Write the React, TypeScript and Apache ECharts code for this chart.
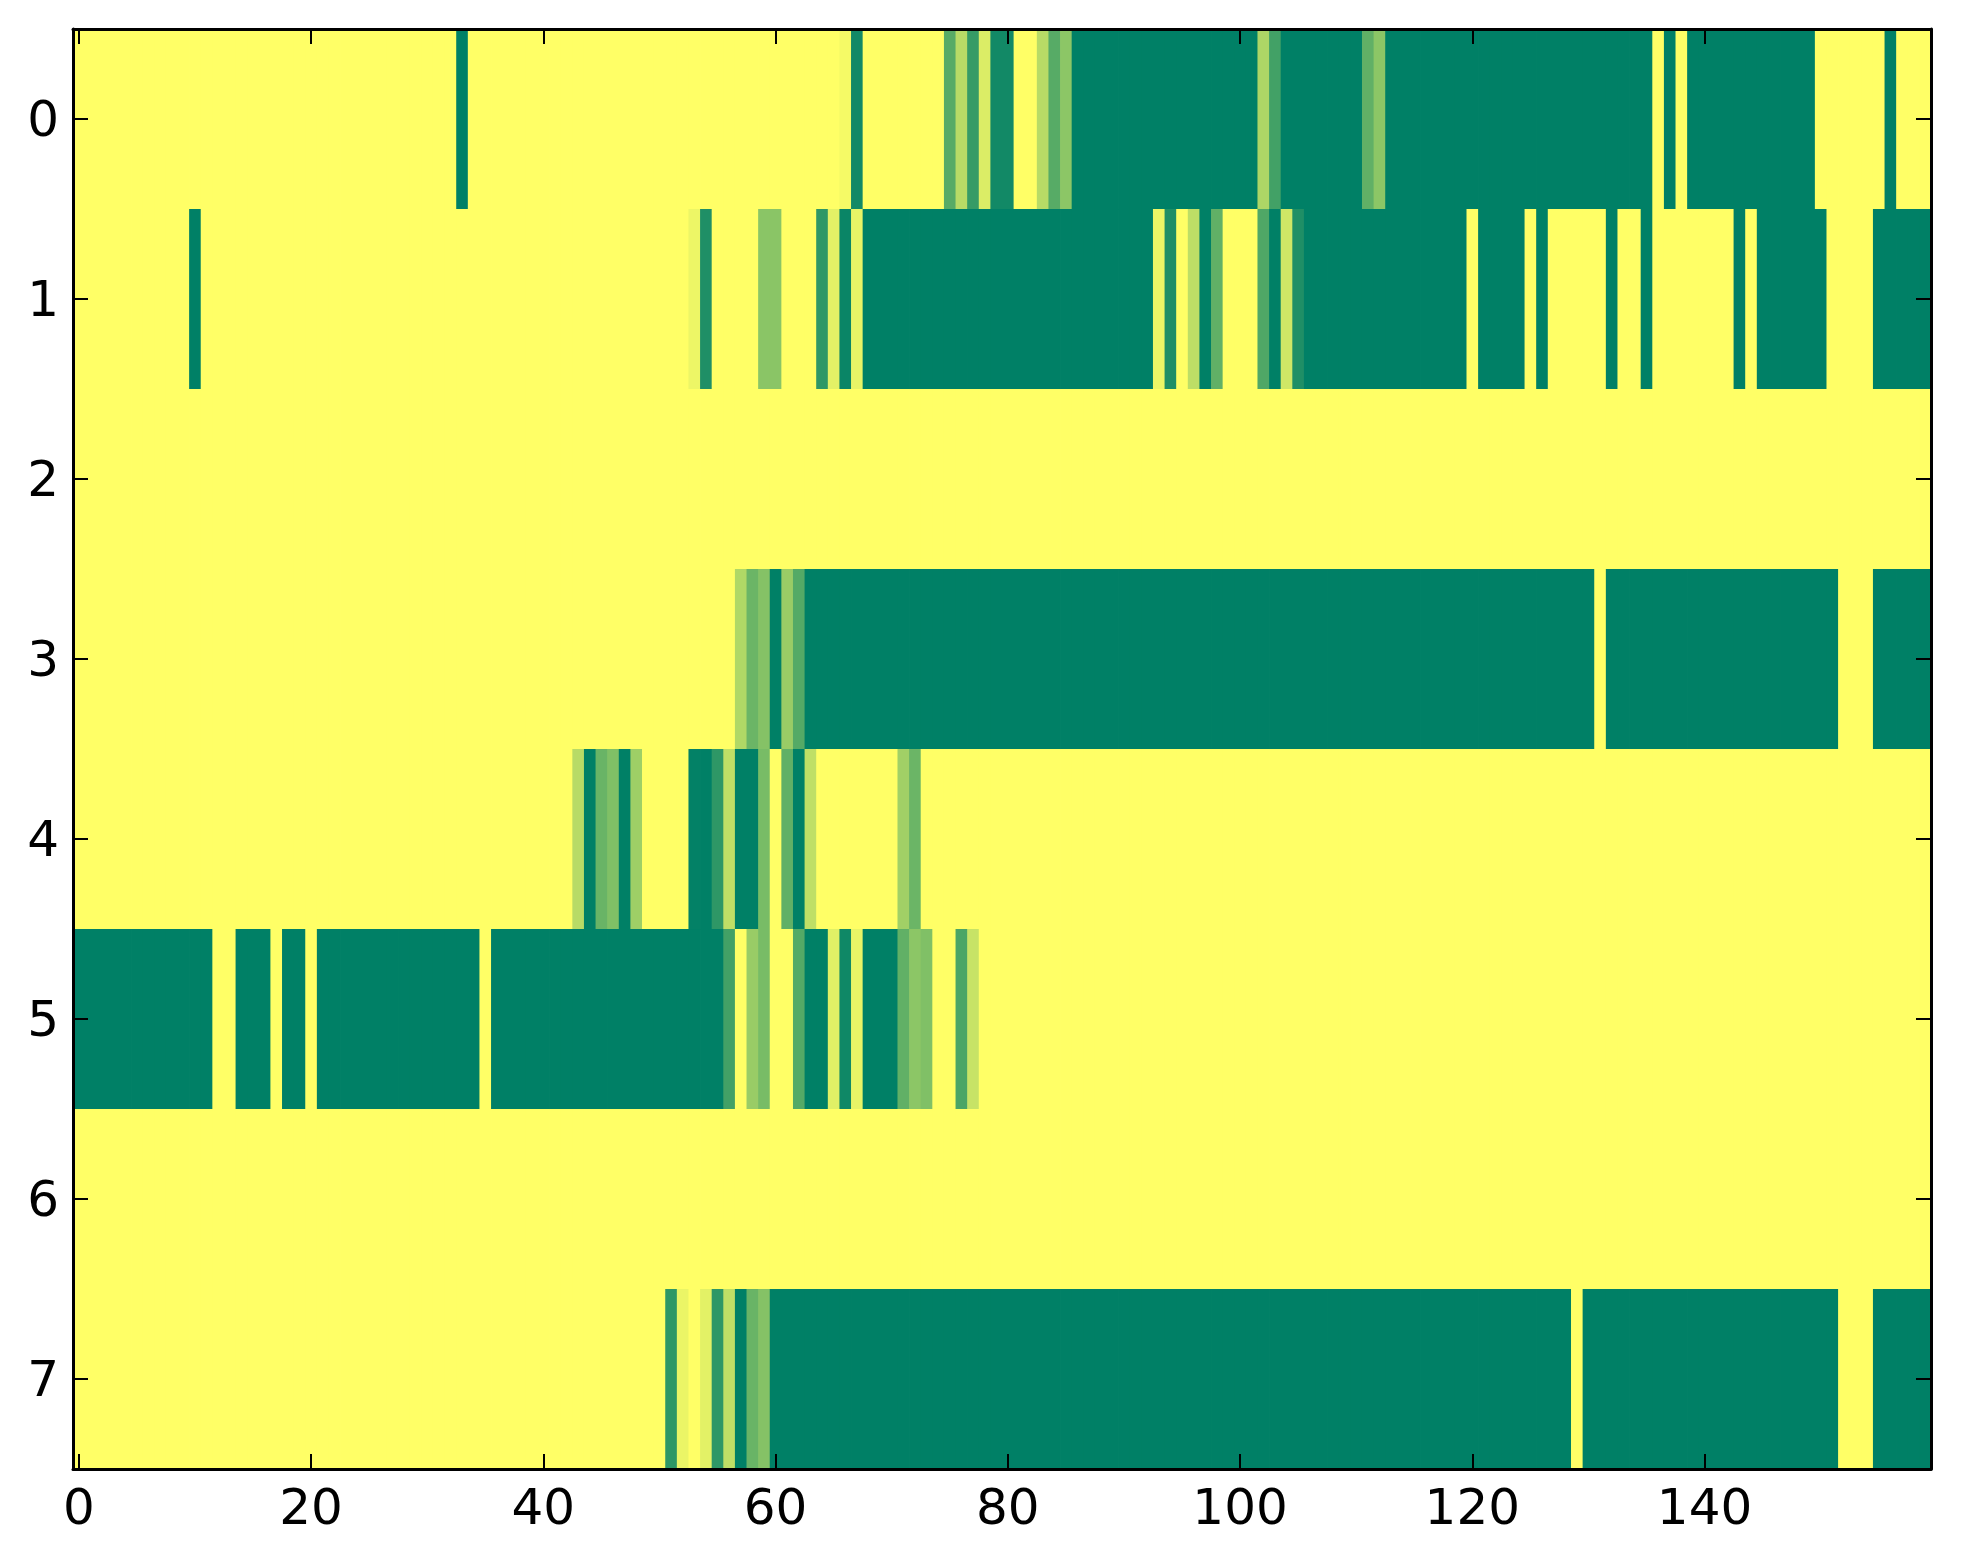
import React, { useEffect, useRef } from "react";
import * as echarts from "echarts";

const xCategories: string[] = Array.from({ length: 160 }, (_, i) => String(i));
const yCategories: string[] = ["0", "1", "2", "3", "4", "5", "6", "7"];
const xTickLabels: string[] = ["0", "20", "40", "60", "80", "100", "120", "140"];

const row0 = [
  1, 1, 1, 1, 1, 1, 1, 1, 1, 1, 1, 1, 1, 1, 1, 1, 1, 1, 1, 1,
  1, 1, 1, 1, 1, 1, 1, 1, 1, 1, 1, 1, 1, 0, 1, 1, 1, 1, 1, 1,
  1, 1, 1, 1, 1, 1, 1, 1, 1, 1, 1, 1, 1, 1, 1, 1, 1, 1, 1, 1,
  1, 1, 1, 1, 1, 1, 0.96, 0.07, 1, 1, 1, 1, 1, 1, 1, 0.34, 0.72, 0.21, 0.86, 0.07,
  0.07, 1, 1, 0.72, 0.34, 0.55, 0, 0, 0, 0, 0, 0, 0, 0, 0, 0, 0, 0, 0, 0,
  0, 0, 0.68, 0.26, 0, 0, 0, 0, 0, 0, 0, 0.38, 0.55, 0, 0, 0, 0, 0, 0, 0,
  0, 0, 0, 0, 0, 0, 0, 0, 0, 0, 0, 0, 0, 0, 0, 0, 1, 0, 1, 0,
  0, 0, 0, 0, 0, 0, 0, 0, 0, 0, 1, 1, 1, 1, 1, 1, 0, 1, 1, 1,
];

const row1 = [
  1, 1, 1, 1, 1, 1, 1, 1, 1, 1, 0, 1, 1, 1, 1, 1, 1, 1, 1, 1,
  1, 1, 1, 1, 1, 1, 1, 1, 1, 1, 1, 1, 1, 1, 1, 1, 1, 1, 1, 1,
  1, 1, 1, 1, 1, 1, 1, 1, 1, 1, 1, 1, 1, 0.93, 0.12, 1, 1, 1, 1, 0.54,
  0.54, 1, 1, 1, 0.18, 0.89, 0.04, 0.91, 0, 0, 0, 0, 0, 0, 0, 0, 0, 0, 0, 0,
  0, 0, 0, 0, 0, 0, 0, 0, 0, 0, 0, 0, 0, 0.93, 0.12, 1, 0.74, 0, 0.38, 1,
  1, 1, 0.31, 0, 0.81, 0.12, 0, 0, 0, 0, 0, 0, 0, 0, 0, 0, 0, 0, 0, 0,
  1, 0, 0, 0, 0, 1, 0, 1, 1, 1, 1, 1, 0, 1, 1, 0, 1, 1, 1, 1,
  1, 1, 1, 0, 1, 0, 0, 0, 0, 0, 0, 1, 1, 1, 1, 0, 0, 0, 0, 0,
];

const row2 = [
  1, 1, 1, 1, 1, 1, 1, 1, 1, 1, 1, 1, 1, 1, 1, 1, 1, 1, 1, 1,
  1, 1, 1, 1, 1, 1, 1, 1, 1, 1, 1, 1, 1, 1, 1, 1, 1, 1, 1, 1,
  1, 1, 1, 1, 1, 1, 1, 1, 1, 1, 1, 1, 1, 1, 1, 1, 1, 1, 1, 1,
  1, 1, 1, 1, 1, 1, 1, 1, 1, 1, 1, 1, 1, 1, 1, 1, 1, 1, 1, 1,
  1, 1, 1, 1, 1, 1, 1, 1, 1, 1, 1, 1, 1, 1, 1, 1, 1, 1, 1, 1,
  1, 1, 1, 1, 1, 1, 1, 1, 1, 1, 1, 1, 1, 1, 1, 1, 1, 1, 1, 1,
  1, 1, 1, 1, 1, 1, 1, 1, 1, 1, 1, 1, 1, 1, 1, 1, 1, 1, 1, 1,
  1, 1, 1, 1, 1, 1, 1, 1, 1, 1, 1, 1, 1, 1, 1, 1, 1, 1, 1, 1,
];

const row3 = [
  1, 1, 1, 1, 1, 1, 1, 1, 1, 1, 1, 1, 1, 1, 1, 1, 1, 1, 1, 1,
  1, 1, 1, 1, 1, 1, 1, 1, 1, 1, 1, 1, 1, 1, 1, 1, 1, 1, 1, 1,
  1, 1, 1, 1, 1, 1, 1, 1, 1, 1, 1, 1, 1, 1, 1, 1, 1, 0.69, 0.42, 0.52,
  0, 0.6, 0.33, 0, 0, 0, 0, 0, 0, 0, 0, 0, 0, 0, 0, 0, 0, 0, 0, 0,
  0, 0, 0, 0, 0, 0, 0, 0, 0, 0, 0, 0, 0, 0, 0, 0, 0, 0, 0, 0,
  0, 0, 0, 0, 0, 0, 0, 0, 0, 0, 0, 0, 0, 0, 0, 0, 0, 0, 0, 0,
  0, 0, 0, 0, 0, 0, 0, 0, 0, 0, 0, 1, 0, 0, 0, 0, 0, 0, 0, 0,
  0, 0, 0, 0, 0, 0, 0, 0, 0, 0, 0, 0, 1, 1, 1, 0, 0, 0, 0, 0,
];

const row4 = [
  1, 1, 1, 1, 1, 1, 1, 1, 1, 1, 1, 1, 1, 1, 1, 1, 1, 1, 1, 1,
  1, 1, 1, 1, 1, 1, 1, 1, 1, 1, 1, 1, 1, 1, 1, 1, 1, 1, 1, 1,
  1, 1, 1, 0.72, 0, 0.41, 0.5, 0, 0.62, 1, 1, 1, 1, 0.01, 0, 0.18, 0.75, 0, 0, 0.47,
  1, 0.38, 0, 0.75, 1, 1, 1, 1, 1, 1, 1, 0.63, 0.42, 1, 1, 1, 1, 1, 1, 1,
  1, 1, 1, 1, 1, 1, 1, 1, 1, 1, 1, 1, 1, 1, 1, 1, 1, 1, 1, 1,
  1, 1, 1, 1, 1, 1, 1, 1, 1, 1, 1, 1, 1, 1, 1, 1, 1, 1, 1, 1,
  1, 1, 1, 1, 1, 1, 1, 1, 1, 1, 1, 1, 1, 1, 1, 1, 1, 1, 1, 1,
  1, 1, 1, 1, 1, 1, 1, 1, 1, 1, 1, 1, 1, 1, 1, 1, 1, 1, 1, 1,
];

const row5 = [
  0, 0, 0, 0, 0, 0, 0, 0, 0, 0, 0, 0, 1, 1, 0, 0, 0, 1, 0, 0,
  1, 0, 0, 0, 0, 0, 0, 0, 0, 0, 0, 0, 0, 0, 0, 1, 0, 0, 0, 0,
  0, 0, 0, 0, 0, 0, 0, 0, 0, 0, 0, 0, 0, 0, 0, 0, 0.26, 1, 0.6, 0.47,
  1, 1, 0.33, 0, 0, 0.88, 0.06, 0.91, 0, 0, 0, 0.38, 0.55, 0.5, 1, 1, 0.29, 0.78, 1, 1,
  1, 1, 1, 1, 1, 1, 1, 1, 1, 1, 1, 1, 1, 1, 1, 1, 1, 1, 1, 1,
  1, 1, 1, 1, 1, 1, 1, 1, 1, 1, 1, 1, 1, 1, 1, 1, 1, 1, 1, 1,
  1, 1, 1, 1, 1, 1, 1, 1, 1, 1, 1, 1, 1, 1, 1, 1, 1, 1, 1, 1,
  1, 1, 1, 1, 1, 1, 1, 1, 1, 1, 1, 1, 1, 1, 1, 1, 1, 1, 1, 1,
];

const row6 = [
  1, 1, 1, 1, 1, 1, 1, 1, 1, 1, 1, 1, 1, 1, 1, 1, 1, 1, 1, 1,
  1, 1, 1, 1, 1, 1, 1, 1, 1, 1, 1, 1, 1, 1, 1, 1, 1, 1, 1, 1,
  1, 1, 1, 1, 1, 1, 1, 1, 1, 1, 1, 1, 1, 1, 1, 1, 1, 1, 1, 1,
  1, 1, 1, 1, 1, 1, 1, 1, 1, 1, 1, 1, 1, 1, 1, 1, 1, 1, 1, 1,
  1, 1, 1, 1, 1, 1, 1, 1, 1, 1, 1, 1, 1, 1, 1, 1, 1, 1, 1, 1,
  1, 1, 1, 1, 1, 1, 1, 1, 1, 1, 1, 1, 1, 1, 1, 1, 1, 1, 1, 1,
  1, 1, 1, 1, 1, 1, 1, 1, 1, 1, 1, 1, 1, 1, 1, 1, 1, 1, 1, 1,
  1, 1, 1, 1, 1, 1, 1, 1, 1, 1, 1, 1, 1, 1, 1, 1, 1, 1, 1, 1,
];

const row7 = [
  1, 1, 1, 1, 1, 1, 1, 1, 1, 1, 1, 1, 1, 1, 1, 1, 1, 1, 1, 1,
  1, 1, 1, 1, 1, 1, 1, 1, 1, 1, 1, 1, 1, 1, 1, 1, 1, 1, 1, 1,
  1, 1, 1, 1, 1, 1, 1, 1, 1, 1, 1, 0.18, 0.92, 1, 0.89, 0.18, 0.75, 0, 0.41, 0.52,
  0, 0, 0, 0, 0, 0, 0, 0, 0, 0, 0, 0, 0, 0, 0, 0, 0, 0, 0, 0,
  0, 0, 0, 0, 0, 0, 0, 0, 0, 0, 0, 0, 0, 0, 0, 0, 0, 0, 0, 0,
  0, 0, 0, 0, 0, 0, 0, 0, 0, 0, 0, 0, 0, 0, 0, 0, 0, 0, 0, 0,
  0, 0, 0, 0, 0, 0, 0, 0, 0, 1, 0, 0, 0, 0, 0, 0, 0, 0, 0, 0,
  0, 0, 0, 0, 0, 0, 0, 0, 0, 0, 0, 0, 1, 1, 1, 0, 0, 0, 0, 0,
];

const heatRows = [row0, row1, row2, row3, row4, row5, row6, row7];

const FONT = "DejaVu Sans";

export default function App() {
  const ref = useRef<HTMLDivElement>(null);

  useEffect(() => {
    if (!ref.current) return;
    const chart = echarts.init(ref.current, null, { renderer: "svg" });

    const data: number[][] = [];
    heatRows.forEach((row, y) => {
      row.forEach((v, x) => {
        data.push([x, y, v]);
      });
    });

    const showTick = (_i: number, v: string) => xTickLabels.includes(v);

    const tickStyle = { color: "#000", width: 2 };

    const baseX = {
      type: "category",
      data: xCategories,
      boundaryGap: true,
      z: 10,
      axisLine: { show: true, onZero: false, lineStyle: { color: "#000", width: 3 } },
      splitLine: { show: false },
    };
    const baseY = {
      type: "category",
      data: yCategories,
      inverse: true,
      boundaryGap: true,
      z: 10,
      axisLine: { show: true, onZero: false, lineStyle: { color: "#000", width: 3 } },
      splitLine: { show: false },
    };

    chart.setOption({
      animation: false,
      backgroundColor: "#ffffff",
      grid: { left: 73, top: 29, width: 1858, height: 1440, containLabel: false },
      visualMap: {
        show: false,
        type: "continuous",
        min: 0,
        max: 1,
        dimension: 2,
        seriesIndex: 0,
        inRange: { color: ["#008066", "#ffff66"] },
      },
      xAxis: [
        {
          ...baseX,
          position: "bottom",
          axisTick: {
            show: true,
            inside: true,
            length: 15,
            alignWithLabel: true,
            interval: showTick,
            lineStyle: tickStyle,
          },
          axisLabel: {
            show: true,
            interval: showTick,
            fontSize: 50,
            fontFamily: FONT,
            color: "#000",
            margin: 13,
          },
        },
        {
          ...baseX,
          position: "top",
          axisTick: {
            show: true,
            inside: true,
            length: 15,
            alignWithLabel: true,
            interval: showTick,
            lineStyle: tickStyle,
          },
          axisLabel: { show: false },
        },
      ],
      yAxis: [
        {
          ...baseY,
          position: "left",
          axisTick: {
            show: true,
            inside: true,
            length: 15,
            alignWithLabel: true,
            interval: 0,
            lineStyle: tickStyle,
          },
          axisLabel: {
            show: true,
            interval: 0,
            fontSize: 50,
            fontFamily: FONT,
            color: "#000",
            margin: 14,
          },
        },
        {
          ...baseY,
          position: "right",
          axisTick: {
            show: true,
            inside: true,
            length: 15,
            alignWithLabel: true,
            interval: 0,
            lineStyle: tickStyle,
          },
          axisLabel: { show: false },
        },
      ],
      series: [
        {
          type: "custom",
          xAxisIndex: 0,
          yAxisIndex: 0,
          clip: true,
          encode: { x: 0, y: 1 },
          data,
          renderItem: (_params: any, api: any) => {
            const x = api.value(0);
            const y = api.value(1);
            const p = api.coord([x, y]);
            const s = api.size([1, 1]);
            const w = Math.abs(s[0]);
            const h = Math.abs(s[1]);
            return {
              type: "rect",
              shape: { x: p[0] - w / 2, y: p[1] - h / 2, width: w + 0.8, height: h + 0.8 },
              style: { fill: api.visual("color") },
            };
          },
        },
      ],
    });

    return () => {
      chart.dispose();
    };
  }, []);

  return (
    <div
      ref={ref}
      style={{ position: "fixed", left: 0, top: 0, width: 1963, height: 1564, background: "#fff" }}
    />
  );
}
